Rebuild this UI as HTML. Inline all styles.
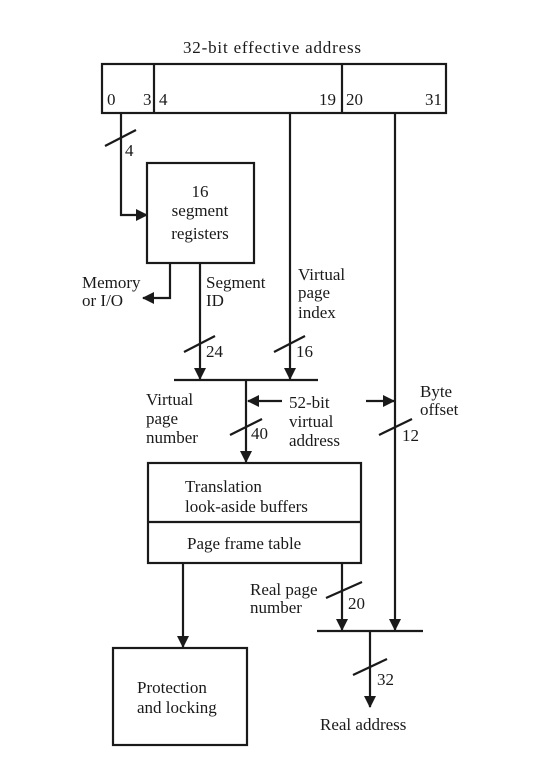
<!DOCTYPE html>
<html><head><meta charset="utf-8"><style>
html,body{margin:0;padding:0;background:#fff;}
svg{display:block;}
text{font-family:"Liberation Serif",serif;font-size:17px;fill:#1a1a1a;}
</style></head><body>
<svg width="541" height="769" viewBox="0 0 541 769" xmlns="http://www.w3.org/2000/svg">
<defs>
<marker id="a" markerWidth="12" markerHeight="12" refX="11" refY="6" orient="auto" markerUnits="userSpaceOnUse">
<path d="M0,0 L12,6 L0,12 z" fill="#1a1a1a"/></marker>
</defs>
<g stroke="#1a1a1a" stroke-width="2.2" fill="none">
<rect x="102" y="64" width="344" height="49"/>
<line x1="154" y1="64" x2="154" y2="113"/>
<line x1="342" y1="64" x2="342" y2="113"/>
<polyline points="121,113 121,215 147,215" marker-end="url(#a)"/>
<line x1="105" y1="146" x2="136" y2="130"/>
<rect x="147" y="163" width="107" height="100"/>
<polyline points="170,263 170,298 143,298" marker-end="url(#a)"/>
<line x1="200" y1="263" x2="200" y2="379" marker-end="url(#a)"/>
<line x1="290" y1="113" x2="290" y2="379" marker-end="url(#a)"/>
<line x1="184" y1="352" x2="215" y2="336"/>
<line x1="274" y1="352" x2="305" y2="336"/>
<line x1="174" y1="380" x2="318" y2="380"/>
<line x1="246" y1="380" x2="246" y2="462" marker-end="url(#a)"/>
<line x1="230" y1="435" x2="262" y2="419"/>
<line x1="282" y1="401" x2="248" y2="401" marker-end="url(#a)"/>
<line x1="366" y1="401" x2="394" y2="401" marker-end="url(#a)"/>
<line x1="395" y1="113" x2="395" y2="630" marker-end="url(#a)"/>
<line x1="379" y1="435" x2="412" y2="419"/>
<rect x="148" y="463" width="213" height="100"/>
<line x1="148" y1="522" x2="361" y2="522"/>
<line x1="183" y1="563" x2="183" y2="647" marker-end="url(#a)"/>
<rect x="113" y="648" width="134" height="97"/>
<line x1="342" y1="563" x2="342" y2="630" marker-end="url(#a)"/>
<line x1="326" y1="598" x2="362" y2="582"/>
<line x1="317" y1="631" x2="423" y2="631"/>
<line x1="370" y1="631" x2="370" y2="707" marker-end="url(#a)"/>
<line x1="353" y1="675" x2="387" y2="659"/>
</g>
<text x="272" y="53" text-anchor="middle" textLength="178">32-bit effective address</text>
<text x="107" y="105">0</text>
<text x="143" y="105">3</text>
<text x="159" y="105">4</text>
<text x="319" y="105">19</text>
<text x="346" y="105">20</text>
<text x="425" y="105">31</text>
<text x="125" y="156" font-size="15">4</text>
<text x="200" y="197" text-anchor="middle">16</text>
<text x="200" y="216" text-anchor="middle">segment</text>
<text x="200" y="239" text-anchor="middle">registers</text>
<text x="82" y="288">Memory</text>
<text x="82" y="306">or I/O</text>
<text x="206" y="288">Segment</text>
<text x="206" y="306">ID</text>
<text x="298" y="280">Virtual</text>
<text x="298" y="298">page</text>
<text x="298" y="318">index</text>
<text x="206" y="357">24</text>
<text x="296" y="357">16</text>
<text x="146" y="405">Virtual</text>
<text x="146" y="424">page</text>
<text x="146" y="443">number</text>
<text x="251" y="439">40</text>
<text x="289" y="408">52-bit</text>
<text x="289" y="427">virtual</text>
<text x="289" y="446">address</text>
<text x="420" y="397">Byte</text>
<text x="420" y="415">offset</text>
<text x="402" y="441">12</text>
<text x="185" y="492">Translation</text>
<text x="185" y="512">look-aside buffers</text>
<text x="187" y="549">Page frame table</text>
<text x="250" y="595">Real page</text>
<text x="250" y="613">number</text>
<text x="348" y="609">20</text>
<text x="137" y="693">Protection</text>
<text x="137" y="713">and locking</text>
<text x="377" y="685">32</text>
<text x="320" y="730">Real address</text>
</svg>
</body></html>
